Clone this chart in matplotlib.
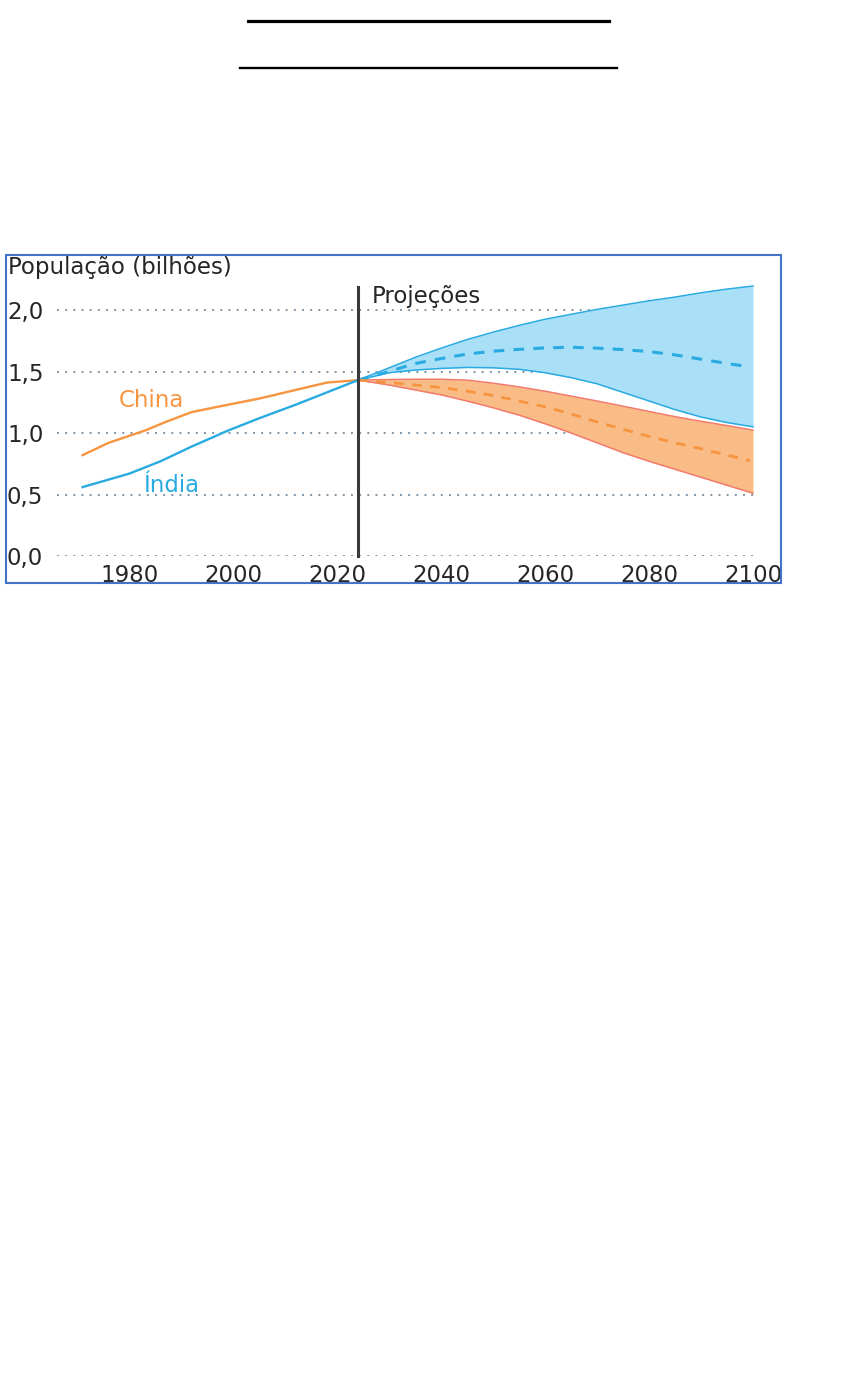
import matplotlib
matplotlib.use("Agg")
import matplotlib.pyplot as plt
from matplotlib.lines import Line2D
from matplotlib.patches import Rectangle

plt.rcParams['font.family'] = ['DejaVu Sans']

# historical data (billions)
china_years = [1971, 1976, 1983, 1987, 1992, 1999, 2005, 2012, 2018, 2024]
china_hist = [0.82, 0.92, 1.02, 1.09, 1.17, 1.23, 1.28, 1.35, 1.41, 1.43]
india_years = [1971, 1980, 1986, 1992, 1999, 2005, 2012, 2018, 2024]
india_hist = [0.56, 0.67, 0.77, 0.89, 1.02, 1.12, 1.23, 1.33, 1.43]

# projections
proj_years = [2024, 2030, 2035, 2040, 2045, 2050, 2055, 2060, 2065, 2070, 2075, 2080, 2085, 2090, 2095, 2100]
india_high = [1.43, 1.53, 1.615, 1.69, 1.76, 1.82, 1.875, 1.925, 1.965, 2.005, 2.04, 2.075, 2.105, 2.14, 2.17, 2.195]
india_low = [1.43, 1.49, 1.512, 1.525, 1.533, 1.53, 1.518, 1.49, 1.45, 1.40, 1.33, 1.26, 1.19, 1.13, 1.085, 1.05]
india_mid = [1.43, 1.50, 1.565, 1.605, 1.642, 1.665, 1.68, 1.692, 1.697, 1.69, 1.678, 1.662, 1.635, 1.60, 1.565, 1.54]
china_high = [1.43, 1.435, 1.437, 1.437, 1.43, 1.405, 1.375, 1.34, 1.30, 1.26, 1.218, 1.175, 1.133, 1.095, 1.06, 1.024]
china_low = [1.43, 1.39, 1.35, 1.31, 1.26, 1.205, 1.145, 1.075, 1.00, 0.92, 0.84, 0.77, 0.705, 0.64, 0.575, 0.51]
china_mid = [1.43, 1.41, 1.39, 1.37, 1.34, 1.305, 1.26, 1.213, 1.155, 1.09, 1.03, 0.972, 0.92, 0.872, 0.82, 0.775]

yticks = [0.0, 0.5, 1.0, 1.5, 2.0]
ytick_labels = ['0,0', '0,5', '1,0', '1,5', '2,0']
xticks = [1980, 2000, 2020, 2040, 2060, 2080, 2100]

india_color = '#29abe2'
india_fill = '#aadff8'
china_color = '#f7943f'
china_fill = '#f9bc86'
china_edge = '#f37a6c'
text_color = '#262626'

W, H = 857, 1373
fig = plt.figure(figsize=(W / 100, H / 100), dpi=100)

ax = fig.add_axes([57 / W, 1 - 556 / H, 696 / W, (556 - 285.4) / H])
ax.set_xlim(1966.08, 2100.0)
ax.set_ylim(0, 2.2)
for s in ax.spines.values():
    s.set_visible(False)

ax.set_yticks(yticks)
ax.set_yticklabels(ytick_labels)
ax.set_xticks(xticks)
ax.tick_params(axis='y', length=0, pad=36, labelsize=16.5, labelcolor=text_color)
ax.tick_params(axis='x', length=0, pad=6, labelsize=16.5, labelcolor=text_color)
for lab in ax.get_yticklabels():
    lab.set_horizontalalignment('left')
ax.yaxis.grid(True, color='#7d95a8', linestyle=(0, (1, 3.2)), linewidth=1.4)
ax.xaxis.grid(False)
ax.set_axisbelow(True)

# projection bands
ax.fill_between(proj_years, india_low, india_high, color=india_fill, lw=0, zorder=2, clip_on=False)
ax.fill_between(proj_years, china_low, china_high, color=china_fill, lw=0, zorder=2, clip_on=False)
ax.plot(proj_years, india_high, color=india_color, lw=1.1, zorder=3, clip_on=False)
ax.plot(proj_years, india_low, color=india_color, lw=1.1, zorder=3, clip_on=False)
ax.plot(proj_years, china_high, color=china_edge, lw=1.1, zorder=3, clip_on=False)
ax.plot(proj_years, china_low, color=china_edge, lw=1.1, zorder=3, clip_on=False)
ax.plot(proj_years[:-1] + [2099], india_mid[:-1] + [1.54], color=india_color, lw=2.2,
        linestyle=(0, (3.5, 3)), zorder=4)
ax.plot(proj_years[:-1] + [2099.4], china_mid[:-1] + [0.775], color=china_color, lw=2.0,
        linestyle=(0, (3.5, 3)), zorder=4)

# history
ax.plot(china_years, china_hist, color=china_color, lw=1.7, zorder=4)
ax.plot(india_years, india_hist, color=india_color, lw=1.7, zorder=4)

# projections marker
ax.plot([2024, 2024], [0, 2.19], color='#3a3a3a', lw=2.2, zorder=5, clip_on=False)
ax.text(2026.6, 2.054, 'Projeções', fontsize=16.5, color=text_color, ha='left', va='baseline')

ax.text(1984.3, 1.214, 'China', fontsize=16.5, color=china_color, ha='center', va='baseline')
ax.text(1988.0, 0.523, 'Índia', fontsize=16.5, color=india_color, ha='center', va='baseline')

fig.text(8 / W, 1 - 274 / H, 'População (bilhões)', fontsize=16.5, color=text_color,
         ha='left', va='baseline')

# frame around the chart
fig.add_artist(Rectangle((6 / W, 1 - 583 / H), 775 / W, 328 / H, transform=fig.transFigure,
                         fill=False, edgecolor='#4472c4', lw=1.5))

# the two rules at the top of the page
fig.add_artist(Line2D([248 / W, 609 / W], [1 - 21 / H, 1 - 21 / H], color='black', lw=2.3))
fig.add_artist(Line2D([240 / W, 617 / W], [1 - 68 / H, 1 - 68 / H], color='black', lw=1.7))

fig.savefig('out.png', dpi=100, facecolor='white')
